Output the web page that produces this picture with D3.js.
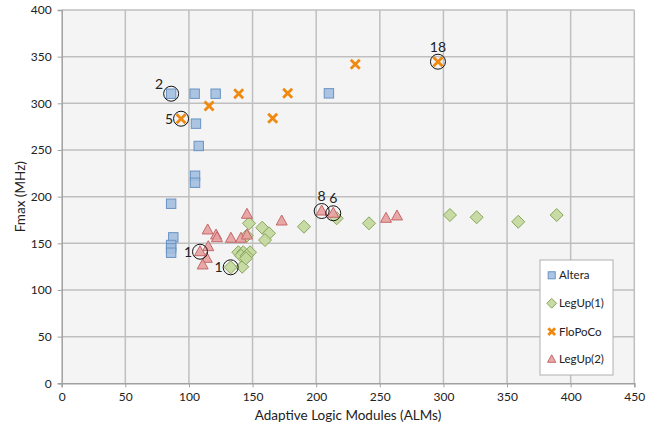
<!DOCTYPE html>
<html><head><meta charset="utf-8">
<script src="https://cdn.jsdelivr.net/npm/d3@7"></script>
<style>body{margin:0;background:#fff}svg{display:block}text{font-family:Lato,"Open Sans","Liberation Sans",sans-serif;fill:#222}</style>
</head><body><svg id="c" width="657" height="430"></svg>
<script>
const xTicks = [0,50,100,150,200,250,300,350,400,450];
const yTicks = [0,50,100,150,200,250,300,350,400];
const seriesNames = ["Altera","LegUp(1)","FloPoCo","LegUp(2)"];
const alteraX = [86,104.5,121,105.5,107.7,210,104.8,104.8,86,87.7,86,86,86];
const alteraY = [310.3,310.3,310.3,278.2,254.3,310.7,222.4,214.9,192.4,156.4,148.2,144.6,139.9];
const legup1X = [132.8,141.9,138.8,142.7,148,140.9,145.4,144.8,145.4,147.2,157.6,162.9,159.8,190.4,216.1,241.5,305.1,326.1,358.8,389];
const legup1Y = [124.3,124.9,140.4,140.4,140.4,136.7,136.7,133.9,158.1,171.4,166.7,160.7,153.5,167.8,176.8,171.4,180.3,177.9,173.1,180.3];
const flopocoX = [93.8,115.8,139.1,165.8,177.6,230.7,295.7];
const flopocoY = [283.5,297.1,310.3,283.9,310.7,341.8,344.6];
const legup2X = [145.6,114.7,121.3,122,133,140.9,145.6,115.2,108.7,114,110.8,172.9,204.3,213.4,254.9,263.5];
const legup2Y = [181.1,164.3,158.9,156,155.4,155.4,158.9,146.4,141,133.9,126.8,173.9,184.6,182.2,176.8,179.3];
const annX = [86,93.8,108.7,132.8,204.3,213.4,295.7];
const annY = [310.3,283.5,141,124.3,184.6,182.2,344.6];
const annLabel = ["2","5","1","1","8","6","18"];
const annSide = ["upleft","left","left","left","above","above","above"];

const svg = d3.select("#c");
const L=61.7,R=634.3,T=10,B=383.3;
const x = d3.scaleLinear().domain([0,450]).range([L,R]);
const y = d3.scaleLinear().domain([0,400]).range([B,T]);

svg.append("rect").attr("x",L).attr("y",T).attr("width",R-L).attr("height",B-T).attr("fill","#f4f4f4");
const g = svg.append("g");
g.selectAll(".vg").data(xTicks.slice(1)).join("line").attr("x1",d=>x(d)).attr("x2",d=>x(d)).attr("y1",T).attr("y2",B).attr("stroke","#bfbfbf").attr("stroke-width",1.5);
g.selectAll(".hg").data(yTicks.slice(1)).join("line").attr("y1",d=>y(d)).attr("y2",d=>y(d)).attr("x1",L).attr("x2",R).attr("stroke","#bfbfbf").attr("stroke-width",1.5);

const xa = svg.append("g").attr("transform",`translate(0,${B})`).call(d3.axisBottom(x).tickValues(xTicks).tickSize(4).tickPadding(5));
const ya = svg.append("g").attr("transform",`translate(${L},0)`).call(d3.axisLeft(y).tickValues(yTicks).tickSize(4).tickPadding(6));
[xa,ya].forEach(a=>{a.select(".domain").attr("stroke","#a0a0a0").attr("stroke-width",1.5);a.selectAll(".tick line").attr("stroke","#a0a0a0");a.selectAll("text").attr("font-size",12).attr("fill","#222");});

svg.append("text").attr("x",(L+R)/2).attr("y",420).attr("text-anchor","middle").attr("font-size",13.5).text("Adaptive Logic Modules (ALMs)");
svg.append("text").attr("transform",`translate(25,${(T+B)/2}) rotate(-90)`).attr("text-anchor","middle").attr("font-size",13.5).text("Fmax (MHz)");

const styles = {
 "Altera":{fill:"#a2bfe0",stroke:"#6a93c4"},
 "LegUp(1)":{fill:"#c3d89b",stroke:"#87a65c"},
 "FloPoCo":{fill:"none",stroke:"#f0890f"},
 "LegUp(2)":{fill:"#e8a0a0",stroke:"#c46868"}
};
function marker(sel,name,s){
  const st=styles[name];
  if(name==="Altera") sel.append("rect").attr("x",-4.7*s).attr("y",-4.7*s).attr("width",9.4*s).attr("height",9.4*s).attr("fill",st.fill).attr("fill-opacity",0.9).attr("stroke",st.stroke).attr("stroke-width",1);
  else if(name==="LegUp(1)") sel.append("path").attr("d",`M0,${-6.5*s}L${6.5*s},0L0,${6.5*s}L${-6.5*s},0Z`).attr("fill",st.fill).attr("fill-opacity",0.9).attr("stroke",st.stroke).attr("stroke-width",1);
  else if(name==="FloPoCo") sel.append("path").attr("d",`M${-4.5*s},${-4.5*s}L${4.5*s},${4.5*s}M${4.5*s},${-4.5*s}L${-4.5*s},${4.5*s}`).attr("stroke",st.stroke).attr("stroke-width",2.8).attr("fill","none");
  else sel.append("path").attr("d",`M0,${-6*s}L${5.5*s},${4*s}L${-5.5*s},${4*s}Z`).attr("fill",st.fill).attr("fill-opacity",0.9).attr("stroke",st.stroke).attr("stroke-width",1);
}
const sets = [["Altera",alteraX,alteraY],["LegUp(1)",legup1X,legup1Y],["FloPoCo",flopocoX,flopocoY],["LegUp(2)",legup2X,legup2Y]];
sets.forEach(([name,xs,ys])=>{
  const pts = xs.map((v,i)=>[v,ys[i]]);
  const sg = svg.append("g");
  sg.selectAll("g").data(pts).join("g").attr("transform",d=>`translate(${x(d[0])},${y(d[1])})`).each(function(){marker(d3.select(this),name,1);});
});

const ann = annX.map((v,i)=>({x:v,y:annY[i],label:annLabel[i],side:annSide[i]}));
svg.selectAll(".ac").data(ann).join("circle").attr("cx",d=>x(d.x)).attr("cy",d=>y(d.y)).attr("r",7.5).attr("fill","none").attr("stroke","#111").attr("stroke-width",1);
svg.selectAll(".al").data(ann).join("text").attr("font-size",14)
 .attr("x",d=>d.side==="above"?x(d.x):d.side==="upleft"?x(d.x)-8:x(d.x)-8)
 .attr("y",d=>d.side==="above"?y(d.y)-10:d.side==="upleft"?y(d.y)-5:y(d.y)+5)
 .attr("text-anchor",d=>d.side==="above"?"middle":"end").text(d=>d.label);

const lg = svg.append("g");
lg.append("rect").attr("x",540).attr("y",260).attr("width",73).attr("height",115).attr("fill","#fff").attr("stroke","#b0b0b0");
const lys=[275.3,303.3,331.7,359.3];
seriesNames.forEach((n,i)=>{
  const m = lg.append("g").attr("transform",`translate(551.7,${lys[i]})`);
  marker(m,n,0.75);
  lg.append("text").attr("x",559).attr("y",lys[i]+4).attr("font-size",11.5).text(n);
});
</script></body></html>
